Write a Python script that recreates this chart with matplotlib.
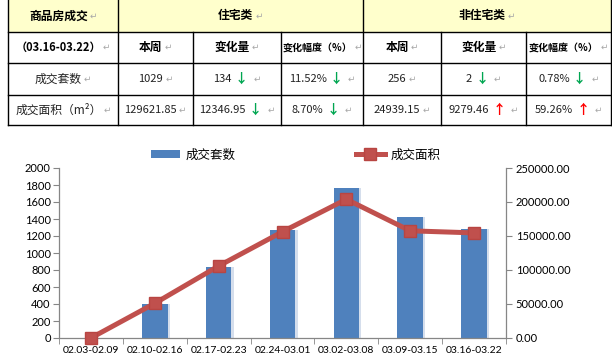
import numpy as np
import matplotlib
matplotlib.use("Agg")
import matplotlib.pyplot as plt
from matplotlib.patches import Rectangle
from matplotlib.ticker import FixedLocator, FuncFormatter

# ---------------- data ----------------
weeks = ["02.03-02.09", "02.10-02.16", "02.17-02.23", "02.24-03.01",
         "03.02-03.08", "03.09-03.15", "03.16-03.22"]
units = [0, 400, 840, 1270, 1765, 1421, 1285]            # 成交套数
area = [0, 51000, 105900, 156300, 204000, 157628.5, 154561.0]  # 成交面积

table_title = "商品房成交"
period = "（03.16-03.22）"
group_names = ["住宅类", "非住宅类"]
col_heads = ["本周", "变化量", "变化幅度（%）"]
row_names = ["成交套数", "成交面积（m²）"]
res_vals = [["1029", "134", "11.52%"], ["129621.85", "12346.95", "8.70%"]]
res_dirs = [[None, "down", "down"], [None, "down", "down"]]
non_vals = [["256", "2", "0.78%"], ["24939.15", "9279.46", "59.26%"]]
non_dirs = [[None, "down", "down"], [None, "up", "up"]]

BAR = "#4F81BD"
LINE = "#C0504D"
GRAY = "#868686"
CJK = ["Noto Sans CJK SC", "DejaVu Sans"]

plt.rcParams["font.family"] = ["Lato", "Noto Sans CJK SC", "DejaVu Sans"]

W, H = 612, 363
fig = plt.figure(figsize=(W / 100, H / 100), dpi=100)
fig.patch.set_facecolor("white")

# ---------------- table (pixel coordinates) ----------------
tab = fig.add_axes([0, 0, 1, 1])
tab.set_xlim(0, W)
tab.set_ylim(H, 0)
tab.axis("off")

cols = [8, 118, 193, 281, 363, 441, 526, 611]
rows = [0, 32, 63, 95, 125]

tab.add_patch(Rectangle((cols[0], 0), cols[-1] - cols[0], rows[1],
                        facecolor="#FFFFCC", edgecolor="none", zorder=0))
lw = 1.0
for xv in [cols[0], cols[1], cols[4], cols[-1]]:
    tab.plot([xv, xv], [rows[0], rows[-1]], color="black", lw=lw, zorder=2)
for xv in [cols[2], cols[3], cols[5], cols[6]]:
    tab.plot([xv, xv], [rows[1], rows[-1]], color="black", lw=lw, zorder=2)
for yv in rows[1:]:
    tab.plot([cols[0], cols[-1]], [yv, yv], color="black", lw=lw, zorder=2)

renderer = fig.canvas.get_renderer()
RET = ("↵", "#A8A8A8", "normal", 6.5, 2)


def group(xc, yc, pieces):
    """pieces: list of (text, color, weight, size, gap_before_px)"""
    objs, widths, gaps = [], [], []
    for s, c, wgt, sz, gap in pieces:
        t = tab.text(0, yc, s, color=c, fontweight=wgt, fontsize=sz,
                     family=CJK, ha="left", va="center", zorder=3)
        objs.append(t)
        widths.append(t.get_window_extent(renderer).width)
        gaps.append(gap)
    total = sum(widths) + sum(gaps[1:])
    xpos = xc - total / 2
    for i, t in enumerate(objs):
        if i > 0:
            xpos += gaps[i]
        t.set_x(xpos)
        xpos += widths[i]


def cx(i):
    return (cols[i] + cols[i + 1]) / 2


def cy(j):
    return (rows[j] + rows[j + 1]) / 2


BOLD = 8.5
NUM = 8.0
group(cx(0), cy(0), [(table_title, "black", "bold", BOLD, 0), RET])
group((cols[1] + cols[4]) / 2, cy(0), [(group_names[0], "black", "bold", BOLD, 0), RET])
group((cols[4] + cols[7]) / 2, cy(0), [(group_names[1], "black", "bold", BOLD, 0), RET])
group(cx(0), cy(1), [(period, "black", "bold", 8.0, 0), RET])
for k in range(2):
    for i, h in enumerate(col_heads):
        group(cx(1 + 3 * k + i), cy(1),
              [(h, "black", "bold", BOLD if i < 2 else 7.2, 0), RET])
for r in range(2):
    group(cx(0), cy(2 + r), [(row_names[r], "#222222", "normal", 8.5, 0), RET])
    for k, (vals, dirs) in enumerate([(res_vals, res_dirs), (non_vals, non_dirs)]):
        for i in range(3):
            pcs = [(vals[r][i], "#222222", "normal", NUM, 0)]
            d = dirs[r][i]
            if d == "down":
                pcs.append(("↓", "#00A651", "bold", 9.5, 3))
            elif d == "up":
                pcs.append(("↑", "#FF0000", "bold", 9.5, 3))
            pcs.append(("↵", "#A8A8A8", "normal", 6.5, 5 if d else 2))
            group(cx(1 + 3 * k + i), cy(2 + r), pcs)

# ---------------- chart ----------------
L, R, T, B = 59, 506, 168, 338
ax = fig.add_axes([L / W, (H - B) / H, (R - L) / W, (B - T) / H])
x = np.arange(len(weeks))
ax.bar(x + 0.035, units, width=0.40, color="#D5DEEC", zorder=1)
bars = ax.bar(x, units, width=0.40, color=BAR, zorder=2, label="成交套数")
ax.set_xlim(-0.5, len(weeks) - 0.5)
ax.set_ylim(0, 2000)
ax.yaxis.set_major_locator(FixedLocator(np.arange(0, 2001, 200)))
ax.set_xticks(x)
ax.set_xticklabels(weeks)
ax.set_xticks(np.arange(-0.5, len(weeks), 1.0), minor=True)
ax.tick_params(axis="x", which="major", length=0, pad=6, labelsize=7.5, colors="black")
ax.tick_params(axis="x", which="minor", length=4, color=GRAY, direction="out")
ax.tick_params(axis="y", length=4, color=GRAY, direction="out", labelsize=8, pad=2)
for s in ["top", "right"]:
    ax.spines[s].set_visible(False)
for s in ["left", "bottom"]:
    ax.spines[s].set_color(GRAY)
    ax.spines[s].set_linewidth(0.9)

ax2 = ax.twinx()
ln, = ax2.plot(x, area, color=LINE, lw=3.6, marker="s", ms=9,
               mfc=LINE, mec="#B84542", zorder=5, label="成交面积")
ax2.set_ylim(0, 250000)
ax2.yaxis.set_major_locator(FixedLocator(np.arange(0, 250001, 50000)))
ax2.yaxis.set_major_formatter(FuncFormatter(lambda v, p: f"{v:.2f}"))
ax2.tick_params(axis="y", length=4, color=GRAY, direction="out", labelsize=8, pad=3)
for s in ["top", "left", "bottom"]:
    ax2.spines[s].set_visible(False)
ax2.spines["right"].set_color(GRAY)
ax2.spines["right"].set_linewidth(0.9)
ln.set_clip_on(False)

fig.legend(handles=[bars, ln], labels=["成交套数", "成交面积"],
           loc="center", bbox_to_anchor=(296 / W, (H - 155) / H),
           ncol=2, frameon=False, handlelength=2.3, handleheight=0.55,
           handletextpad=0.5, columnspacing=9.6, prop={"family": CJK, "size": 9})

fig.savefig("out.png", dpi=100, facecolor="white")
